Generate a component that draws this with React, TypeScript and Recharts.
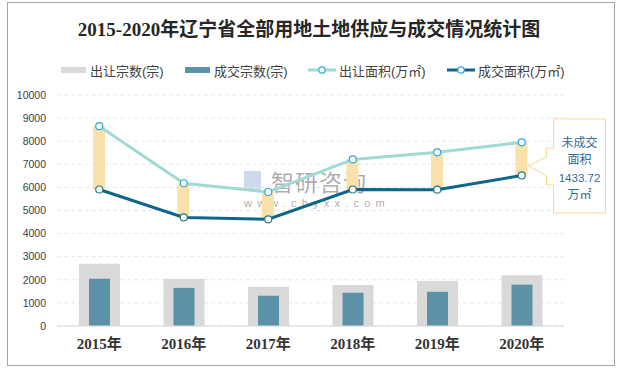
import React from 'react'
import { ComposedChart, Bar, Line, XAxis, YAxis, CartesianGrid, LabelList } from 'recharts'

const years = ['2015年', '2016年', '2017年', '2018年', '2019年', '2020年']
const supplyCount = [2700, 2050, 1700, 1780, 1950, 2200]
const dealCount = [2050, 1650, 1310, 1440, 1480, 1790]
const supplyArea = [8650, 6180, 5800, 7210, 7520, 7950]
const dealArea = [5910, 4700, 4620, 5910, 5900, 6516.28]
const yTicks = [0, 1000, 2000, 3000, 4000, 5000, 6000, 7000, 8000, 9000, 10000]
const gapNote = ['未成交', '面积', '1433.72', '万㎡']

const data = years.map((year, i) => ({
  year,
  supplyCount: supplyCount[i],
  dealCount: dealCount[i],
  supplyArea: supplyArea[i],
  dealArea: dealArea[i],
  gap: [dealArea[i], supplyArea[i]],
}))

const sans = '"Liberation Sans", "Noto Sans CJK SC", sans-serif'
const serif = '"Liberation Serif", "Noto Sans CJK SC", serif'

function Callout(props: any) {
  const { x, y, width, height, index } = props
  if (index !== years.length - 1) return null
  const tx = x + width + 1
  const ty = y + height / 2 + 7
  const L = tx + 25
  const R = tx + 77
  const T = ty - 47
  const B = ty + 47
  const d = `M${L},${T} H${R} V${B} H${L} V${ty + 19} H${tx + 18} V${ty + 10} L${tx},${ty} L${tx + 18},${ty - 9} V${ty - 18} H${L} Z`
  const cx = (L + R) / 2
  return (
    <g>
      <path d={d} fill="#fff" stroke="#F9D98C" strokeWidth={1} />
      {gapNote.map((t, i) => (
        <text
          key={t}
          x={cx}
          y={ty - 23 + i * 17.5}
          textAnchor="middle"
          dominantBaseline="central"
          fill="#2F6E98"
          fontSize={i === 2 ? 11.5 : 12}
          fontFamily={sans}
        >
          {t}
        </text>
      ))}
    </g>
  )
}

function LegendItem({ left, label, kind, color }: { left: number; label: string; kind: 'bar' | 'line'; color: string }) {
  return (
    <div style={{ position: 'absolute', left, top: 61, height: 18, display: 'flex', alignItems: 'center' }}>
      {kind === 'bar' ? (
        <div style={{ width: 25, height: 6, background: color, marginRight: 4 }} />
      ) : (
        <svg width={28} height={10} style={{ marginRight: 3 }}>
          <line x1={0} y1={5} x2={28} y2={5} stroke={color} strokeWidth={3} />
          <circle cx={14} cy={5} r={3.2} fill="#fff" stroke="#2EA9DF" strokeWidth={1.2} />
        </svg>
      )}
      <span style={{ fontSize: 13, color: '#404040', fontFamily: sans, whiteSpace: 'nowrap' }}>{label}</span>
    </div>
  )
}

export default function App() {
  return (
    <div style={{ position: 'fixed', left: 0, top: 0, width: 618, height: 368, background: '#fff' }}>
      <div
        style={{
          position: 'absolute',
          left: 7,
          top: 2,
          width: 606,
          height: 362,
          border: '1px solid #A6A6A6',
        }}
      />
      <div
        style={{
          position: 'absolute',
          left: 0,
          width: 618,
          top: 14,
          textAlign: 'center',
          fontFamily: serif,
          fontWeight: 700,
          fontSize: 19,
          color: '#262626',
        }}
      >
        2015-2020年辽宁省全部用地土地供应与成交情况统计图
      </div>
      <LegendItem left={61} label="出让宗数(宗)" kind="bar" color="#D9D9D9" />
      <LegendItem left={185} label="成交宗数(宗)" kind="bar" color="#5D91A7" />
      <LegendItem left={308} label="出让面积(万㎡)" kind="line" color="#A0DAD3" />
      <LegendItem left={447} label="成交面积(万㎡)" kind="line" color="#0F6688" />
      <div
        style={{
          position: 'absolute',
          left: 244,
          top: 164,
          fontFamily: sans,
          color: 'rgba(100,100,100,0.55)',
          pointerEvents: 'none',
        }}
      >
        <div style={{ display: 'flex', alignItems: 'center' }}>
          <div style={{ width: 17, height: 20, background: 'rgba(130,160,210,0.4)', marginRight: 10 }} />
          <div style={{ fontSize: 23, letterSpacing: 1 }}>智研咨询</div>
        </div>
        <div style={{ fontSize: 11, letterSpacing: 5.2, marginTop: -1 }}>www.chyxx.com</div>
      </div>
      <div style={{ position: 'absolute', left: 0, top: 0 }}>
        <ComposedChart width={618} height={368} data={data} margin={{ top: 95, right: 54, bottom: 12, left: 0 }}>
          <CartesianGrid vertical={false} stroke="#E6E6E6" strokeDasharray="4 3" />
          <XAxis
            xAxisId="a"
            dataKey="year"
            height={30}
            tickLine={false}
            tickMargin={6}
            axisLine={{ stroke: '#D9D9D9' }}
            tick={{ fontSize: 15, fontWeight: 700, fill: '#333', fontFamily: serif }}
          />
          <XAxis xAxisId="b" dataKey="year" hide />
          <XAxis xAxisId="c" dataKey="year" hide />
          <YAxis
            width={57}
            domain={[0, 10000]}
            ticks={yTicks}
            interval={0}
            tickLine={false}
            axisLine={false}
            tickMargin={5}
            tick={{ fontSize: 10.5, fill: '#404040', fontFamily: sans }}
          />
          <Bar xAxisId="a" dataKey="supplyCount" fill="#D9D9D9" barSize={41} isAnimationActive={false} />
          <Bar xAxisId="b" dataKey="dealCount" fill="#5D91A7" barSize={21} isAnimationActive={false} />
          <Bar xAxisId="c" dataKey="gap" fill="#F9E2A9" barSize={12} isAnimationActive={false}>
            <LabelList dataKey="gap" content={<Callout />} />
          </Bar>
          <Line
            xAxisId="a"
            dataKey="supplyArea"
            stroke="#A0DAD3"
            strokeWidth={3}
            dot={{ r: 3.5, fill: '#fff', stroke: '#2EA9DF', strokeWidth: 1.2 }}
            isAnimationActive={false}
          />
          <Line
            xAxisId="a"
            dataKey="dealArea"
            stroke="#0F6688"
            strokeWidth={3}
            dot={{ r: 3.5, fill: '#fff', stroke: '#2A7B8C', strokeWidth: 1.2 }}
            isAnimationActive={false}
          />
        </ComposedChart>
      </div>
    </div>
  )
}
